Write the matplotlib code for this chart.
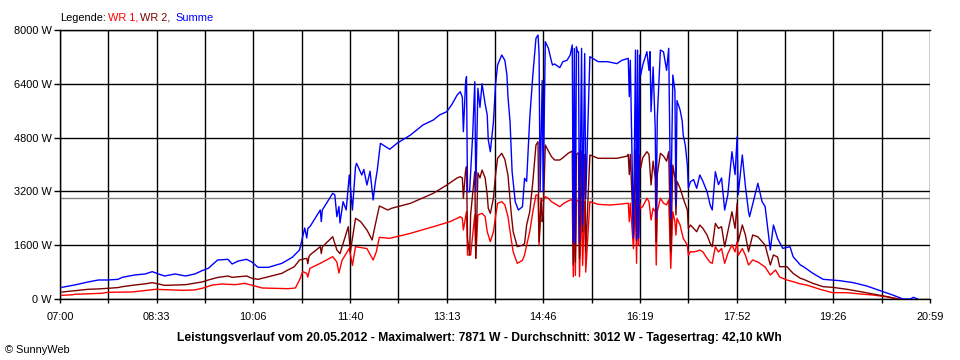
import numpy as np
import matplotlib
matplotlib.use("Agg")
import matplotlib.pyplot as plt

plt.rcParams['font.family'] = ['Liberation Sans', 'DejaVu Sans']

# time axis: minutes after 07:00, power in W
summe_min = [2, 14, 27, 37, 46, 56, 60, 72, 82, 89, 95, 101, 111, 121, 130, 137, 143, 152, 162, 166,
             172, 180, 185, 191, 201, 214, 224, 231, 236, 238, 239, 241, 251, 252, 253, 257, 263, 265,
             267, 269, 270, 273, 276, 279, 282, 285, 286, 291, 293, 296, 299, 302, 304, 306, 309, 313,
             318, 325, 338, 350, 360, 366, 373, 378, 383, 386, 388, 389, 391, 392, 393, 395, 398, 400,
             401, 403, 405, 407, 410, 412, 413, 415, 418, 420, 422, 426, 429, 431, 432, 434, 436, 439,
             442, 446, 448, 450, 453, 456, 459, 461, 462, 463, 465, 466, 468, 471, 474, 475, 477, 482,
             485, 489, 492, 494, 495, 496, 497, 498, 499, 500, 501, 503, 504, 506, 507, 511, 519, 528,
             537, 542, 548, 549, 550, 553, 555, 556, 557, 558, 559, 560, 562, 566, 568, 569, 570, 572,
             574, 575, 576, 579, 582, 585, 587, 589, 591, 593, 594, 595, 598, 600, 601, 603, 605, 606,
             608, 611, 614, 617, 620, 624, 627, 629, 632, 635, 638, 641, 644, 648, 651, 653, 654, 658,
             661, 664, 665, 673, 677, 680, 685, 688, 692, 697, 704, 707, 714, 717, 726, 736, 752, 765,
             778, 791, 803, 813, 820, 823, 827]
summe_w = [348, 416, 506, 565, 565, 585, 644, 714, 744, 813, 744, 684, 744, 684, 744, 843, 912, 1160, 1180, 1041,
           1130, 1180, 1100, 942, 942, 1061, 1240, 1457, 2111, 1814, 2100, 2150, 2647, 2300, 2650, 2846, 3143, 3100,
           2448, 2750, 2260, 2894, 2650, 3688, 2647, 3935, 4036, 3688, 3850, 3390, 3800, 2944, 3450, 3837, 4630, 4550,
           4452, 4630, 4877, 5175, 5323, 5472, 5571, 5790, 6067, 6166, 6000, 4976, 6364, 6612, 3191, 3191, 4900, 6463,
           3191, 6266, 5700, 6400, 5800, 5472, 4729, 4381, 5273, 6364, 6959, 7256, 7100, 6661, 6017, 5273, 3786, 2894,
           2647, 2745, 3590, 3500, 5373, 6661, 7753, 7851, 7300, 3191, 6500, 3191, 7653, 7455, 7058, 6959, 6990, 6880,
           7058, 7100, 7256, 7554, 1704, 7450, 1650, 7500, 7350, 7356, 1704, 7455, 2200, 7300, 2994, 7207, 7058, 7058,
           7000, 7100, 7158, 6017, 7100, 1814, 7405, 1750, 7400, 1814, 7256, 6661, 6959, 7356, 6800, 7356, 5571, 6900,
           5076, 2400, 5400, 7405, 7350, 6800, 7455, 2400, 6661, 6200, 2790, 5900, 5621, 5300, 4877, 4580, 3985, 3300,
           3489, 3550, 3292, 3688, 3500, 3191, 2795, 2647, 3786, 3400, 3600, 2647, 3100, 4381, 3700, 4827, 3100, 4282,
           3350, 2596, 2448, 3440, 2900, 2750, 1457, 2200, 1800, 1507, 1556, 1259, 1011, 961, 764, 585, 545, 486,
           387, 248, 119, 0, 0, 50, 0]

wr2_min = [2, 27, 37, 46, 56, 60, 72, 82, 89, 101, 121, 137, 143, 152, 162, 166, 180, 185, 191, 214,
           219, 226, 231, 238, 239, 240, 241, 251, 252, 253, 263, 267, 270, 273, 278, 280, 285, 290, 296,
           301, 304, 308, 316, 320, 338, 360, 373, 383, 386, 388, 389, 391, 392, 393, 395, 396, 400, 401,
           403, 405, 407, 410, 412, 413, 415, 418, 420, 422, 426, 429, 432, 435, 437, 441, 446, 448, 450,
           453, 456, 459, 461, 462, 464, 465, 466, 468, 471, 474, 477, 482, 485, 490, 494, 495, 496, 497,
           498, 500, 501, 503, 504, 506, 507, 511, 519, 528, 537, 547, 548, 549, 550, 553, 555, 556, 557,
           558, 559, 560, 562, 566, 568, 570, 572, 574, 575, 576, 579, 582, 585, 587, 589, 591, 593, 594,
           595, 598, 601, 605, 606, 608, 611, 614, 617, 620, 624, 627, 629, 632, 635, 638, 641, 644, 648,
           651, 653, 654, 658, 661, 664, 668, 673, 680, 685, 688, 692, 694, 701, 707, 714, 717, 726, 736,
           745, 759, 772, 784, 798, 807]
wr2_w = [208, 288, 300, 317, 340, 366, 416, 450, 486, 406, 426, 506, 565, 640, 684, 644, 684, 615, 585, 763,
         850, 961, 1160, 1210, 1050, 1250, 1309, 1556, 1350, 1550, 1853, 1457, 1350, 1650, 2150, 1400, 2400, 2300, 2052,
         1755, 2200, 2766, 2647, 2700, 2846, 3143, 3390, 3600, 3638, 3600, 2994, 3786, 3935, 1804, 1309, 2500, 3786, 1210,
         3750, 3600, 3837, 3600, 3093, 2696, 2547, 3000, 3688, 4184, 4333, 4150, 3688, 2596, 2002, 1556, 1600, 1650, 2200,
         2596, 3489, 4580, 4679, 1704, 3000, 2300, 2500, 4580, 4400, 4232, 4134, 4134, 4200, 4333, 4400, 1011, 4350, 1100,
         4300, 4350, 1200, 4400, 2000, 4300, 1400, 4283, 4184, 4184, 4184, 4250, 4300, 3700, 4300, 1900, 4431, 1800, 4400,
         2000, 4283, 3900, 4200, 4381, 4300, 3390, 4100, 3600, 1704, 3700, 4333, 4250, 4100, 4381, 1407, 3985, 3600, 2500,
         3500, 3292, 2994, 2647, 2100, 2200, 2100, 2002, 2200, 2100, 1903, 1656, 1556, 2250, 2100, 2150, 1556, 2000, 2596,
         2100, 2846, 1700, 2200, 1900, 1407, 1903, 1850, 1600, 1011, 1309, 1250, 961, 961, 763, 615, 585, 466, 366,
         347, 288, 218, 149, 69, 0]

wr1_min = [2, 12, 14, 40, 46, 70, 92, 118, 130, 137, 147, 156, 169, 178, 188, 195, 220, 227, 231, 234,
           238, 239, 241, 251, 263, 267, 269, 272, 279, 282, 285, 296, 302, 305, 308, 318, 338, 360, 376,
           383, 386, 388, 389, 392, 393, 396, 398, 400, 401, 403, 407, 410, 412, 415, 418, 420, 422, 426,
           429, 432, 435, 437, 441, 446, 448, 450, 453, 456, 459, 461, 462, 464, 466, 468, 471, 474, 482,
           486, 492, 494, 495, 496, 497, 498, 500, 501, 503, 504, 506, 507, 511, 519, 530, 540, 548, 549,
           550, 553, 555, 556, 557, 558, 559, 560, 562, 566, 568, 570, 572, 574, 575, 576, 579, 582, 585,
           587, 589, 591, 593, 594, 595, 598, 601, 605, 606, 608, 611, 614, 617, 620, 624, 627, 629, 632,
           635, 638, 641, 644, 648, 651, 653, 654, 658, 661, 664, 668, 673, 680, 685, 690, 694, 701, 707,
           714, 720, 733, 745, 759, 772, 784, 798, 810]
wr1_w = [110, 125, 139, 170, 198, 210, 288, 258, 270, 317, 416, 446, 426, 466, 387, 327, 307, 327, 565, 813,
         763, 650, 912, 1061, 1259, 1100, 773, 1150, 1507, 1000, 1556, 1500, 1160, 1400, 1834, 1804, 1953, 2150, 2299,
         2400, 2448, 2400, 2052, 2596, 1309, 1309, 1900, 2500, 1210, 2500, 2547, 2450, 2002, 1704, 2000, 2448, 2846, 2895,
         2800, 2448, 1804, 1407, 1061, 1150, 1310, 1600, 2002, 2596, 3093, 3093, 1607, 2900, 2950, 3043, 2994, 2894, 2745,
         2850, 2944, 2950, 664, 2900, 700, 2950, 2900, 664, 2900, 1000, 2900, 800, 2894, 2815, 2795, 2820, 2850, 2300,
         2850, 1500, 2950, 1061, 2900, 1600, 2846, 2700, 2750, 2994, 2900, 2350, 2700, 2600, 1011, 2600, 2994, 2850, 2800,
         2950, 912, 2596, 2300, 1900, 2400, 2200, 1804, 1606, 1300, 1407, 1400, 1420, 1457, 1400, 1210, 1091, 1061, 1556,
         1400, 1500, 1061, 1350, 1606, 1400, 1704, 1300, 1500, 1300, 1011, 1160, 1100, 950, 714, 862, 654, 565, 515,
         450, 416, 288, 188, 188, 149, 119, 60, 0]

durchschnitt = 3012
y_ticks = [0, 1600, 3200, 4800, 6400, 8000]
x_labels = ["07:00", "08:33", "10:06", "11:40", "13:13", "14:46", "16:19", "17:52", "19:26", "20:59"]
span = 839  # 07:00 .. 20:59

fig = plt.figure(figsize=(9.6, 3.6), dpi=100)
ax = fig.add_axes([60 / 960, 61 / 360, 870 / 960, 269 / 360])

grid_x = np.linspace(0, span, 19)
for gx in grid_x:
    ax.axvline(gx, color='black', lw=1.0, zorder=1)
for gy in y_ticks:
    ax.axhline(gy, color='black', lw=1.0, zorder=1)
ax.axhline(durchschnitt, color='#808080', lw=1.0, zorder=1.5)

ax.plot(wr1_min, wr1_w, color='#ff0000', lw=1.0, zorder=2)
ax.plot(wr2_min, wr2_w, color='#800000', lw=1.0, zorder=3)
ax.plot(summe_min, summe_w, color='#0000ff', lw=1.0, zorder=4)

ax.set_xlim(0, span)
ax.set_ylim(0, 8000)
ax.set_xticks(grid_x)
ax.set_xticklabels([x_labels[i // 2] if i % 2 == 0 else '' for i in range(19)])
ax.set_yticks(y_ticks)
ax.set_yticklabels([f'{v} W' for v in y_ticks])
ax.tick_params(axis='x', length=3, width=1, pad=6, labelsize=7.9)
ax.tick_params(axis='y', length=4, width=1, pad=2, labelsize=7.9)
for s in ax.spines.values():
    s.set_linewidth(1.0)
ax.spines['right'].set_visible(False)

# legend line at top
ly = 1 - 21 / 360
fig.text(60 / 960, ly, 'Legende:', color='black', fontsize=7.9, va='baseline')
fig.text(108 / 960, ly, 'WR 1,', color='#ff0000', fontsize=7.9, va='baseline')
fig.text(140 / 960, ly, 'WR 2,', color='#800000', fontsize=7.9, va='baseline')
fig.text(175 / 960, ly, 'Summe', color='#0000ff', fontsize=7.9, va='baseline')

fig.text(479 / 960, 1 - 341 / 360,
         'Leistungsverlauf vom 20.05.2012 - Maximalwert: 7871 W - Durchschnitt: 3012 W - Tagesertrag: 42,10 kWh',
         fontsize=8.7, fontweight='bold', ha='center', va='baseline')
fig.text(5 / 960, 1 - 353 / 360, '© SunnyWeb', fontsize=7.9, va='baseline')

fig.savefig('out.png', dpi=100)
